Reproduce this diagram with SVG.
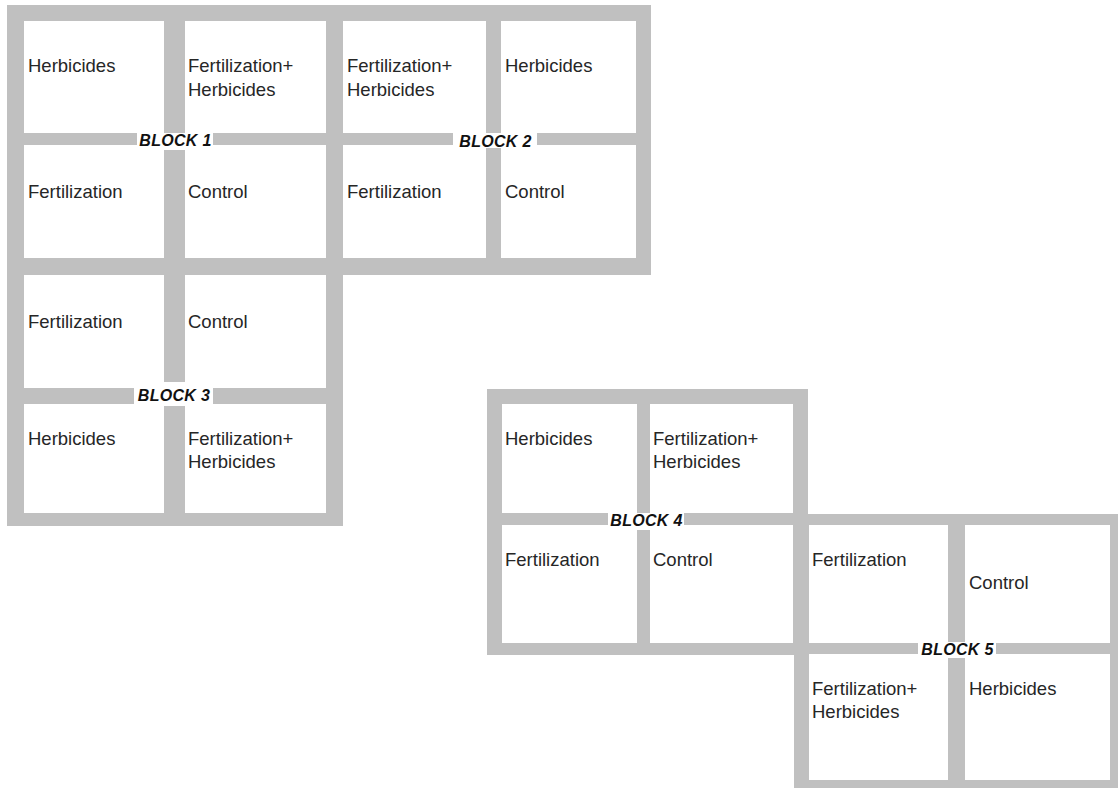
<svg xmlns="http://www.w3.org/2000/svg" width="1118" height="788" viewBox="0 0 1118 788">
<style>
.frame{fill:#c0c0c0}
.cell{fill:#ffffff}
.lbl{fill:#ffffff}
.t{font-family:"Liberation Sans",Arial,sans-serif;font-size:18.5px;fill:#262626}
.b{font-family:"Liberation Sans",Arial,sans-serif;font-size:16px;font-weight:bold;font-style:italic;fill:#111111;text-anchor:middle;letter-spacing:0.3px}
</style>
<rect width="1118" height="788" fill="#ffffff"/>
<g id="frames">
<rect class="frame" x="7" y="5" width="644" height="270"/>
<rect class="frame" x="7" y="258" width="336" height="268"/>
<rect class="frame" x="487" y="389" width="321" height="266"/>
<rect class="frame" x="794" y="514" width="324" height="274"/>
</g>
<g id="block1">
<rect class="cell" x="24" y="21" width="140" height="112"/>
<rect class="cell" x="185" y="21" width="141" height="112"/>
<rect class="cell" x="24" y="145" width="140" height="113"/>
<rect class="cell" x="185" y="145" width="141" height="113"/>
<text class="t" x="28" y="72">Herbicides</text>
<text class="t" x="188" y="72">Fertilization+</text>
<text class="t" x="188" y="95.5">Herbicides</text>
<text class="t" x="28" y="198">Fertilization</text>
<text class="t" x="188" y="198">Control</text>
<rect class="lbl" x="137" y="133" width="76" height="17"/>
<text class="b" x="175.5" y="145.5">BLOCK 1</text>
</g>
<g id="block2">
<rect class="cell" x="343" y="21" width="143" height="112"/>
<rect class="cell" x="501" y="21" width="135" height="112"/>
<rect class="cell" x="343" y="145" width="143" height="113"/>
<rect class="cell" x="501" y="145" width="135" height="113"/>
<text class="t" x="347" y="72">Fertilization+</text>
<text class="t" x="347" y="95.5">Herbicides</text>
<text class="t" x="505" y="72">Herbicides</text>
<text class="t" x="347" y="198">Fertilization</text>
<text class="t" x="505" y="198">Control</text>
<rect class="lbl" x="453" y="133" width="84" height="15"/>
<text class="b" x="495.5" y="147">BLOCK 2</text>
</g>
<g id="block3">
<rect class="cell" x="24" y="275" width="140" height="113"/>
<rect class="cell" x="185" y="275" width="141" height="113"/>
<rect class="cell" x="24" y="404" width="140" height="109"/>
<rect class="cell" x="185" y="404" width="141" height="109"/>
<text class="t" x="28" y="327.5">Fertilization</text>
<text class="t" x="188" y="327.5">Control</text>
<text class="t" x="28" y="445">Herbicides</text>
<text class="t" x="188" y="445">Fertilization+</text>
<text class="t" x="188" y="468">Herbicides</text>
<rect class="lbl" x="134" y="382" width="79" height="24"/>
<text class="b" x="174" y="400.5">BLOCK 3</text>
</g>
<g id="block4">
<rect class="cell" x="502" y="404" width="135" height="109"/>
<rect class="cell" x="650" y="404" width="143" height="109"/>
<rect class="cell" x="502" y="525" width="135" height="118"/>
<rect class="cell" x="650" y="525" width="143" height="118"/>
<text class="t" x="505" y="445">Herbicides</text>
<text class="t" x="653" y="445">Fertilization+</text>
<text class="t" x="653" y="468">Herbicides</text>
<text class="t" x="505" y="565.5">Fertilization</text>
<text class="t" x="653" y="565.5">Control</text>
<rect class="lbl" x="608" y="513" width="76" height="17"/>
<text class="b" x="646.5" y="526">BLOCK 4</text>
</g>
<g id="block5">
<rect class="cell" x="809" y="525" width="139" height="118"/>
<rect class="cell" x="965" y="525" width="145" height="118"/>
<rect class="cell" x="809" y="654" width="139" height="126"/>
<rect class="cell" x="965" y="654" width="145" height="126"/>
<text class="t" x="812" y="565.5">Fertilization</text>
<text class="t" x="969" y="589">Control</text>
<text class="t" x="812" y="695">Fertilization+</text>
<text class="t" x="812" y="718">Herbicides</text>
<text class="t" x="969" y="695">Herbicides</text>
<rect class="lbl" x="918" y="642" width="78" height="16"/>
<text class="b" x="957.5" y="654.5">BLOCK 5</text>
</g>
<g id="connectors"/>
</svg>
